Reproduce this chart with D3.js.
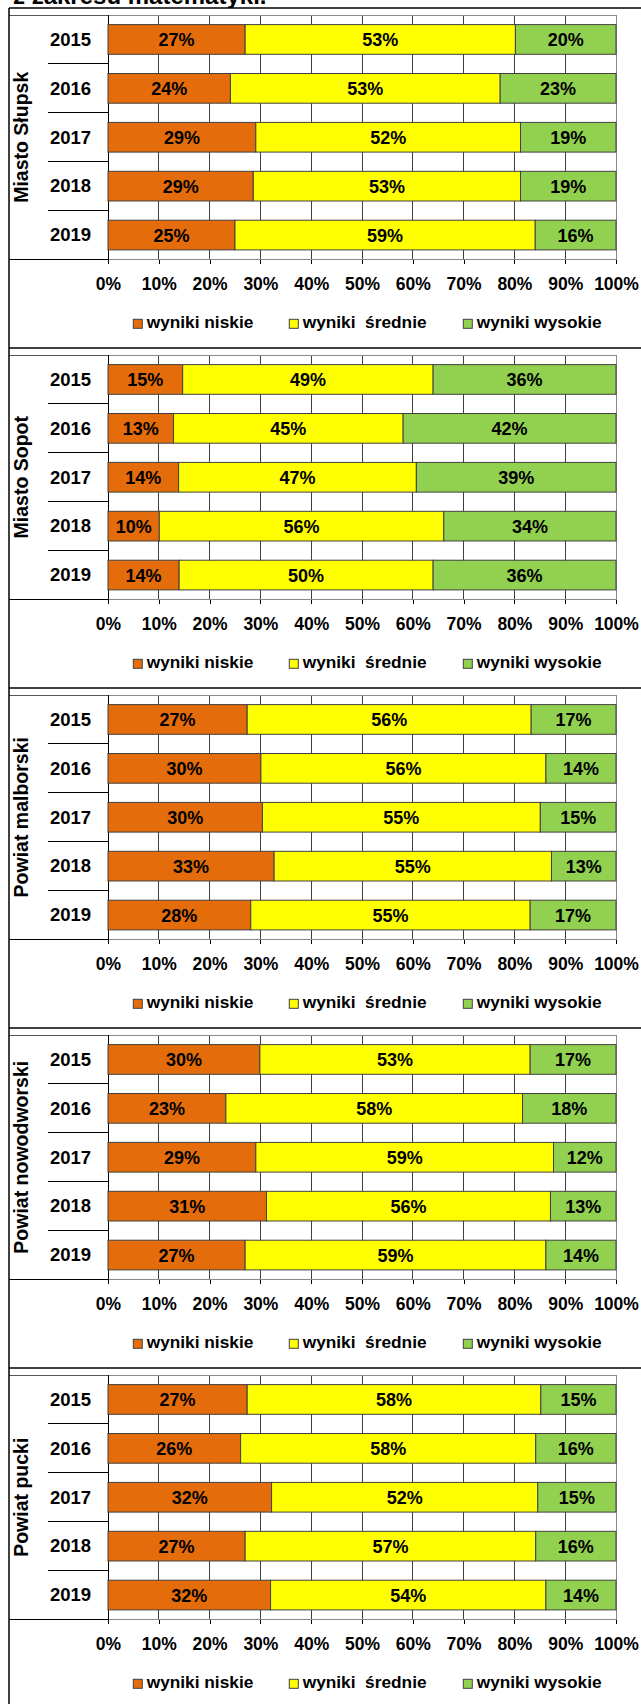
<!DOCTYPE html>
<meta charset="utf-8">
<style>
body { margin: 0; background: #fff; }
svg { display: block; font-family: "Liberation Sans", Arial, sans-serif; }
</style>
<body>
<script src="https://cdn.jsdelivr.net/npm/d3@7"></script>
<script>

var width = 641,
    height = 1704,
    panelH = 340;

var regions = ["Miasto Słupsk", "Miasto Sopot", "Powiat malborski", "Powiat nowodworski", "Powiat pucki"];
var years = ["2015", "2016", "2017", "2018", "2019"];
var keys = ["niskie", "srednie", "wysokie"];
var legendLabels = ["wyniki niskie", "wyniki  średnie", "wyniki wysokie"];
var ticks = [0, 10, 20, 30, 40, 50, 60, 70, 80, 90, 100];

// share (%) per region (row) and year (column)
var niskie = [
  [27.0, 24.1, 29.1, 28.6, 25.0],
  [14.7, 12.9, 13.9, 10.1, 14.0],
  [27.4, 30.1, 30.4, 32.7, 28.1],
  [29.9, 23.2, 29.1, 31.2, 27.0],
  [27.4, 26.1, 32.2, 27.0, 32.0]
];
var srednie = [
  [53.2, 53.1, 52.1, 52.6, 59.1],
  [49.3, 45.2, 46.8, 56.0, 50.0],
  [55.9, 56.1, 54.7, 54.6, 55.0],
  [53.2, 58.4, 58.6, 55.9, 59.2],
  [57.8, 58.1, 52.4, 57.2, 54.2]
];
var wysokie = [
  [19.8, 22.8, 18.8, 18.8, 15.9],
  [36.0, 41.9, 39.3, 33.9, 36.0],
  [16.7, 13.8, 14.9, 12.7, 16.9],
  [16.9, 18.4, 12.3, 12.9, 13.8],
  [14.8, 15.8, 15.4, 15.8, 13.8]
];

var color = d3.scaleOrdinal()
    .domain(keys)
    .range(["#e46c0a", "#ffff00", "#92d050"]);

var x = d3.scaleLinear().domain([0, 100]).range([108, 616]);
var stack = d3.stack().keys(keys);

var svg = d3.select("body").append("svg")
    .attr("width", width)
    .attr("height", height);

// heading, mostly hidden above the chart
svg.append("text")
    .attr("x", 13).attr("y", 4)
    .style("font-size", "24px").style("font-weight", "bold")
    .text("z zakresu matematyki.");

svg.append("rect")
    .attr("x", 9).attr("y", 8)
    .attr("width", width).attr("height", height)
    .attr("fill", "#fff");

var plotTop = 7, plotBottom = 251.5;
var legendX = [133.3, 289.3, 463.3];

regions.forEach(function(region, r) {
  var g = svg.append("g")
      .attr("transform", "translate(0," + (8 + panelH * r) + ")");

  var y = d3.scaleBand()
      .domain(years)
      .range([plotTop, plotBottom])
      .paddingInner(0.393)
      .paddingOuter(0.1965);

  var rows = years.map(function(yr, i) {
    return { year: yr, niskie: niskie[r][i], srednie: srednie[r][i], wysokie: wysokie[r][i] };
  });

  // panel frame line
  g.append("line")
      .attr("x1", 9).attr("x2", width).attr("y1", 0).attr("y2", 0)
      .attr("stroke", "#000").attr("stroke-width", 1.5);

  // gridlines
  g.append("g").selectAll("line")
    .data(ticks.slice(1, -1))
    .join("line")
      .attr("x1", d => x(d)).attr("x2", d => x(d))
      .attr("y1", plotTop).attr("y2", plotBottom)
      .attr("stroke", "#404040")
      .attr("shape-rendering", "crispEdges");

  // plot border
  g.append("path")
      .attr("d", "M" + x(0) + "," + plotTop + "H" + x(100) + "V" + plotBottom + "H" + x(0))
      .attr("fill", "none").attr("stroke", "#8a8a8a")
      .attr("shape-rendering", "crispEdges");

  // category area lines
  g.append("line")
      .attr("x1", 9).attr("x2", x(0)).attr("y1", plotTop).attr("y2", plotTop)
      .attr("stroke", "#555").attr("shape-rendering", "crispEdges");
  g.append("line")
      .attr("x1", 9).attr("x2", x(0)).attr("y1", plotBottom).attr("y2", plotBottom)
      .attr("stroke", "#000").attr("shape-rendering", "crispEdges");
  g.append("g").selectAll("line")
    .data(years.slice(1))
    .join("line")
      .attr("x1", 48).attr("x2", x(0))
      .attr("y1", d => y(d) - y.step() * y.paddingInner() / 2)
      .attr("y2", d => y(d) - y.step() * y.paddingInner() / 2)
      .attr("stroke", "#000").attr("shape-rendering", "crispEdges");
  g.append("line")
      .attr("x1", x(0)).attr("x2", x(0)).attr("y1", plotTop).attr("y2", plotBottom)
      .attr("stroke", "#000").attr("shape-rendering", "crispEdges");

  // bars
  var series = g.append("g").selectAll("g")
    .data(stack(rows))
    .join("g")
      .attr("fill", d => color(d.key));

  series.selectAll("rect")
    .data(d => d)
    .join("rect")
      .attr("x", d => x(d[0]))
      .attr("y", d => y(d.data.year))
      .attr("width", d => x(d[1]) - x(d[0]))
      .attr("height", y.bandwidth())
      .attr("stroke", "#404040")
      .attr("stroke-width", 1);

  series.selectAll("text")
    .data(d => d)
    .join("text")
      .attr("x", d => (x(d[0]) + x(d[1])) / 2)
      .attr("y", d => y(d.data.year) + y.bandwidth() / 2)
      .attr("dy", "0.36em")
      .attr("text-anchor", "middle")
      .attr("fill", "#000")
      .style("font-size", "18px").style("font-weight", "bold")
      .text(d => Math.round(d[1] - d[0]) + "%");

  // year labels
  g.append("g").selectAll("text")
    .data(years)
    .join("text")
      .attr("x", 70.5)
      .attr("y", d => y(d) + y.bandwidth() / 2)
      .attr("dy", "0.34em")
      .attr("text-anchor", "middle")
      .style("font-size", "18.5px").style("font-weight", "bold")
      .text(d => d);

  // region label
  g.append("text")
      .attr("transform", "translate(28," + (plotTop + plotBottom) / 2 + ") rotate(-90)")
      .attr("text-anchor", "middle")
      .style("font-size", "19.5px").style("font-weight", "bold")
      .text(region);

  // x axis
  var axis = g.append("g")
      .attr("transform", "translate(0," + plotBottom + ")")
      .call(d3.axisBottom(x).tickValues(ticks).tickFormat(d => d + "%").tickSize(4.5).tickPadding(13.6));
  axis.select(".domain").remove();
  axis.selectAll("line").attr("stroke", "#000").attr("shape-rendering", "crispEdges");
  axis.selectAll("text")
      .attr("fill", "#000")
      .style("font-family", "'Liberation Sans', Arial, sans-serif")
      .style("font-size", "17.5px").style("font-weight", "bold");

  // legend
  var leg = g.append("g").selectAll("g")
    .data(keys)
    .join("g")
      .attr("transform", (d, i) => "translate(" + legendX[i] + "," + 311.3 + ")");
  leg.append("rect")
      .attr("width", 9).attr("height", 9)
      .attr("fill", d => color(d))
      .attr("stroke", "#404040");
  leg.append("text")
      .attr("x", 13.4).attr("y", 9)
      .style("font-size", "17.3px").style("font-weight", "bold")
      .style("white-space", "pre")
      .text((d, i) => legendLabels[i]);
});

// left frame line
svg.append("line")
    .attr("x1", 9).attr("x2", 9).attr("y1", 8).attr("y2", height)
    .attr("stroke", "#000").attr("stroke-width", 1.5);

</script>
